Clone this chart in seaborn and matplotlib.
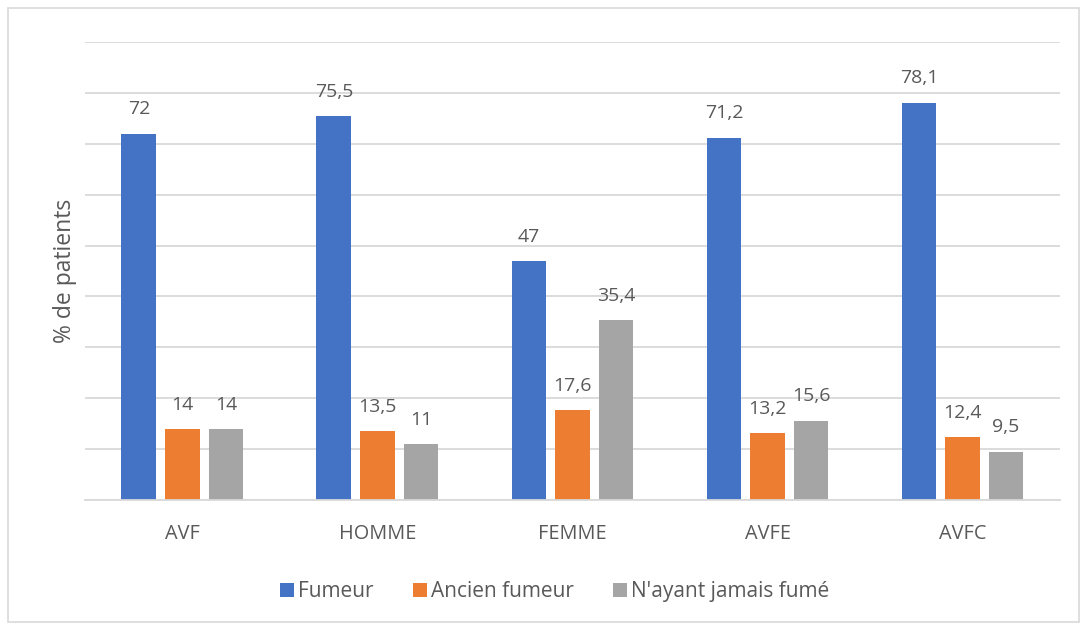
import matplotlib
matplotlib.use("Agg")
import matplotlib.pyplot as plt
from matplotlib.patches import Rectangle
import seaborn as sns
import pandas as pd

# Data
groupes = ["AVF", "HOMME", "FEMME", "AVFE", "AVFC"]
fumeur = [72, 75.5, 47, 71.2, 78.1]
ancien_fumeur = [14, 13.5, 17.6, 13.2, 12.4]
jamais_fume = [14, 11, 35.4, 15.6, 9.5]
statuts = ["Fumeur", "Ancien fumeur", "N'ayant jamais fumé"]
couleurs = ["#4472C4", "#ED7D31", "#A5A5A5"]

df = pd.DataFrame({
    "groupe": groupes * 3,
    "statut": [statuts[0]] * 5 + [statuts[1]] * 5 + [statuts[2]] * 5,
    "valeur": fumeur + ancien_fumeur + jamais_fume,
})

sns.set_style("white")
plt.rcParams["font.family"] = ["Open Sans", "DejaVu Sans"]
txt = "#595959"

fig = plt.figure(figsize=(10.89, 6.3), dpi=100)
ax = fig.add_axes([0.078, 0.2063, 0.8954, 0.727])

sns.barplot(data=df, x="groupe", y="valeur", hue="statut",
            palette=couleurs, width=0.67, gap=0.2, ax=ax,
            edgecolor="none", saturation=1)

# data labels, French decimal comma
for cont in ax.containers:
    ax.bar_label(cont, labels=[f"{v:g}".replace(".", ",") for v in cont.datavalues],
                 padding=11, fontsize=14, color=txt)

ax.set_ylim(0, 90)
ax.set_yticks(range(0, 91, 10))
ax.set_yticklabels([])
ax.tick_params(axis="both", length=0)
ax.tick_params(axis="x", labelsize=14.3, labelcolor=txt, pad=17)
ax.yaxis.grid(True, color="#D9D9D9", lw=1.3)
ax.set_axisbelow(True)
for s in ["top", "right", "left"]:
    ax.spines[s].set_visible(False)
ax.spines["bottom"].set_color("#D9D9D9")
ax.spines["bottom"].set_linewidth(1.3)
ax.set_xlabel("")
ax.set_ylabel("% de patients", fontsize=16.5, color=txt, labelpad=2)

ax.legend(loc="center", bbox_to_anchor=(0.482, -0.2), ncol=3, frameon=False,
          fontsize=15, labelcolor=txt, handlelength=0.65, handleheight=0.65,
          handletextpad=0.2, columnspacing=1.9)

# thin frame around the whole figure
fig.patches.append(Rectangle((0.007, 0.013), 0.984, 0.974, transform=fig.transFigure,
                             fill=False, edgecolor="#D9D9D9", lw=1.2))

fig.savefig("out.png", dpi=100)
